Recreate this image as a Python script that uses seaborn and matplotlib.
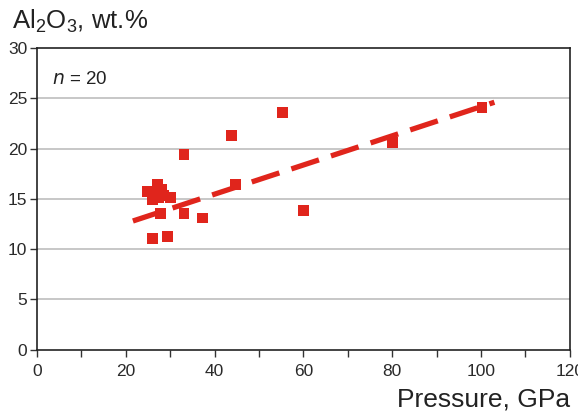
import matplotlib
matplotlib.use("Agg")
import matplotlib.pyplot as plt
import seaborn as sns
import pandas as pd

pressure = [24.8, 26.1, 26.5, 27.2, 27.3, 28.1, 28.5, 30.0, 27.9, 33.1,
            37.2, 26.1, 29.3, 33.1, 43.9, 44.8, 55.2, 60.0, 80.0, 100.2]
al2o3 = [15.7, 14.9, 15.6, 16.4, 15.1, 15.9, 15.3, 15.1, 13.5, 13.5,
         13.1, 11.1, 11.3, 19.4, 21.3, 16.4, 23.6, 13.8, 20.6, 24.1]
trend_x = [21.6, 103.0]
trend_y = [12.8, 24.6]
xticks = [0, 20, 40, 60, 80, 100, 120]
yticks = [0, 5, 10, 15, 20, 25, 30]

sns.set_style("white")
plt.rcParams['font.family'] = ['Liberation Sans', 'DejaVu Sans']
plt.rcParams['mathtext.default'] = 'regular'

df = pd.DataFrame({"P": pressure, "A": al2o3})
red = "#E0251C"

fig = plt.figure(figsize=(5.78, 4.13), dpi=100)
ax = fig.add_axes([0.064, 0.153, 0.922, 0.731])

for y in yticks[1:-1]:
    ax.axhline(y, color="#bdbdbd", lw=1.2, zorder=0)

sns.lineplot(x=trend_x, y=trend_y, ax=ax, color=red, lw=3.8,
             dashes=False, zorder=2)
ax.lines[-1].set_dashes([5.5, 2.4])
sns.scatterplot(data=df, x="P", y="A", ax=ax, marker="s", s=62, color=red,
                edgecolor="none", linewidth=0, zorder=3)

ax.set_xlim(0, 120)
ax.set_ylim(0, 30)
ax.set_xticks(xticks)
ax.set_xticks([10, 30, 50, 70, 90, 110], minor=True)
ax.set_yticks(yticks)
ax.tick_params(axis="both", which="both", direction="out", length=5, width=1,
               color="#333333", labelsize=12.5, labelcolor="#2a2a2a", pad=2,
               bottom=True, left=True)
ax.tick_params(axis="x", pad=5)
for sp in ax.spines.values():
    sp.set_color("#222222")
    sp.set_linewidth(1.2)
ax.set_xlabel("")
ax.set_ylabel("")

ax.text(0.028, 0.925, "$\\it{n}$ = 20", transform=ax.transAxes, fontsize=13.5,
        ha="left", va="top", color="#222222")
fig.text(0.02, 0.93, "Al$_2$O$_3$, wt.%", fontsize=18.5, ha="left",
         va="baseline", color="#222222")
fig.text(0.986, 0.015, "Pressure, GPa", fontsize=19, ha="right",
         va="baseline", color="#222222")

fig.savefig("out.png", dpi=100)
